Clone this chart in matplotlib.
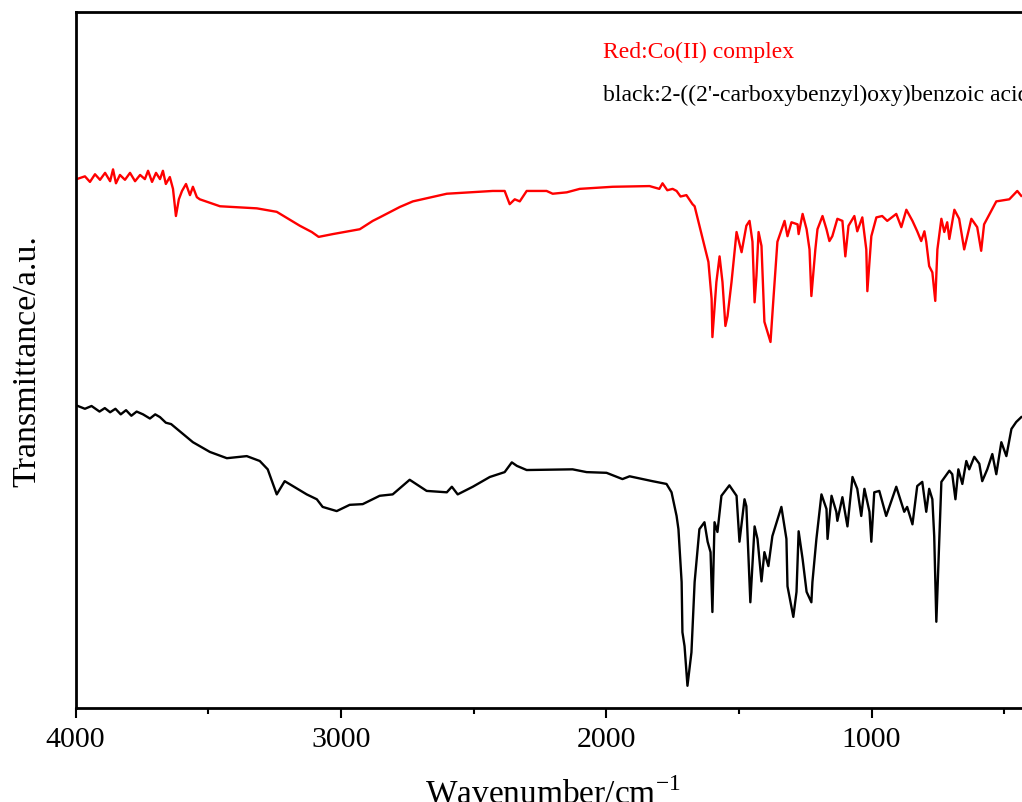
import matplotlib
matplotlib.use("Agg")
import matplotlib.pyplot as plt
from matplotlib.ticker import MultipleLocator

plt.rcParams["font.family"] = ["Liberation Serif", "DejaVu Serif"]
plt.rcParams["mathtext.fontset"] = "custom"
plt.rcParams["mathtext.rm"] = "Liberation Serif"

# FTIR spectra, wavenumber (cm^-1) vs transmittance (a.u., offset)
red_wn = [3996, 3965, 3946, 3927, 3908, 3889, 3870, 3859, 3848, 3833, 3814, 3795,
          3776, 3757, 3739, 3727, 3712, 3697, 3682, 3671, 3660, 3645, 3633, 3622,
          3611, 3599, 3584, 3569, 3558, 3543, 3532, 3456, 3317, 3242, 3155, 3110,
          3084, 3031, 2929, 2880, 2854, 2778, 2729, 2601, 2428, 2383, 2364, 2345,
          2326, 2300, 2225, 2202, 2149, 2100, 1976, 1848, 1837, 1800, 1788, 1770,
          1750, 1735, 1720, 1698, 1675, 1667, 1649, 1630, 1615, 1603, 1600, 1585,
          1573, 1562, 1551, 1543, 1528, 1509, 1490, 1472, 1460, 1449, 1441, 1434,
          1426, 1415, 1404, 1381, 1370, 1355, 1328, 1317, 1302, 1279, 1275, 1260,
          1245, 1234, 1227, 1212, 1204, 1185, 1170, 1159, 1148, 1129, 1110, 1099,
          1087, 1065, 1054, 1035, 1020, 1016, 1001, 982, 960, 941, 907, 888, 869,
          846, 828, 813, 801, 794, 783, 771, 760, 752, 737, 726, 715, 707, 688,
          670, 651, 624, 602, 587, 576, 530, 481, 451, 436]
red_t = [76.0, 76.4, 75.6, 76.7, 75.9, 76.9, 75.7, 77.4, 75.4, 76.6, 75.9, 76.9,
         75.7, 76.6, 76.0, 77.2, 75.6, 76.9, 76.0, 77.2, 75.3, 76.3, 74.6, 70.7,
         73.1, 74.3, 75.3, 73.7, 74.9, 73.4, 73.1, 72.1, 71.8, 71.3, 69.3, 68.4,
         67.7, 68.1, 68.8, 70.0, 70.5, 72.0, 72.8, 73.9, 74.3, 74.3, 72.4, 73.1,
         72.8, 74.3, 74.3, 73.9, 74.1, 74.6, 74.9, 75.0, 75.0, 74.6, 75.4, 74.4,
         74.6, 74.3, 73.5, 73.7, 72.4, 72.1, 69.3, 66.4, 64.1, 58.8, 53.3, 61.2,
         64.9, 61.2, 54.9, 56.3, 61.2, 68.4, 65.5, 69.3, 70.0, 67.0, 58.3, 62.1,
         68.4, 66.4, 55.5, 52.6, 58.8, 67.0, 70.0, 67.8, 69.8, 69.5, 68.1, 71.0,
         68.8, 65.9, 59.2, 65.9, 68.8, 70.7, 68.8, 67.1, 67.8, 70.3, 70.0, 64.9,
         69.3, 70.7, 68.5, 70.5, 65.9, 59.9, 67.8, 70.5, 70.7, 70.0, 71.0, 69.1, 71.6,
         70.0, 68.5, 67.1, 68.5, 67.0, 63.5, 62.6, 58.5, 65.9, 70.3, 68.4, 69.8, 67.4, 71.6,
         70.3, 65.9, 70.3, 69.1, 65.7, 69.5, 72.8, 73.1, 74.3, 73.6]

black_wn = [3998, 3965, 3940, 3910, 3890, 3870, 3850, 3830, 3810, 3790, 3770, 3746,
            3720, 3700, 3682, 3660, 3640, 3618, 3558, 3494, 3430, 3355, 3306, 3276,
            3242, 3212, 3129, 3091, 3069, 3016, 2967, 2918, 2854, 2805, 2741, 2677,
            2601, 2582, 2560, 2503, 2439, 2383, 2356, 2337, 2300, 2127, 2074, 1999,
            1939, 1912, 1826, 1773, 1754, 1735, 1728, 1716, 1713, 1705, 1694, 1679,
            1667, 1649, 1630, 1618, 1607, 1600, 1592, 1581, 1566, 1536, 1509, 1498,
            1479, 1472, 1457, 1441, 1430, 1415, 1404, 1389, 1374, 1340, 1321, 1317,
            1295, 1283, 1275, 1260, 1245, 1227, 1223, 1208, 1189, 1170, 1166, 1151,
            1133, 1129, 1110, 1091, 1072, 1054, 1039, 1027, 1008, 1001, 990, 971,
            945, 907, 877, 866, 846, 828, 809, 794, 783, 771, 764, 756, 748, 737,
            707, 696, 684, 673, 658, 643, 632, 613, 594, 583, 564, 545, 530, 511,
            492, 473, 455, 436]
black_t = [43.5, 43.0, 43.4, 42.6, 43.1, 42.5, 43.0, 42.2, 42.8, 42.0, 42.6, 42.2,
           41.6, 42.2, 41.8, 41.0, 40.8, 40.1, 38.2, 36.8, 35.9, 36.2, 35.5, 34.3,
           30.7, 32.6, 30.7, 30.0, 28.9, 28.3, 29.2, 29.3, 30.5, 30.7, 32.8, 31.2,
           31.0, 31.8, 30.7, 31.8, 33.2, 33.9, 35.3, 34.8, 34.2, 34.3, 33.9, 33.8,
           32.9, 33.3, 32.6, 32.2, 31.0, 27.6, 25.7, 18.1, 10.9, 8.9, 3.2, 8.0,
           18.1, 25.7, 26.7, 23.9, 22.4, 13.8, 26.7, 25.3, 30.5, 32.0, 30.5, 23.9,
           30.0, 29.0, 15.2, 26.1, 24.3, 18.2, 22.4, 20.4, 24.7, 28.9, 24.3, 17.5,
           13.1, 16.7, 25.4, 21.4, 16.7, 15.2, 18.1, 24.3, 30.7, 28.6, 24.3, 30.5,
           28.2, 26.9, 30.3, 26.1, 33.2, 31.5, 27.6, 31.5, 28.2, 23.9, 31.0, 31.2,
           27.6, 31.8, 28.2, 28.9, 26.4, 31.9, 32.5, 28.2, 31.5, 30.0, 24.7, 12.4, 21.0, 32.5,
           34.1, 33.6, 30.0, 34.3, 32.2, 35.5, 34.3, 36.1, 35.1, 32.6, 34.3, 36.5, 33.6, 38.2,
           36.2, 40.1, 41.1, 41.8]

fig = plt.figure(figsize=(10.22, 8.03), dpi=100)
# the original frame runs past the right edge of the picture
ax = fig.add_axes([0.074, 0.117, 0.9346, 0.8667])

ax.plot(red_wn, red_t, color="red", lw=1.7)
ax.plot(black_wn, black_t, color="black", lw=1.7)

ax.set_xlim(4000, 400)
ax.set_ylim(0, 100)
ax.xaxis.set_major_locator(MultipleLocator(1000))
ax.xaxis.set_minor_locator(MultipleLocator(500))
ax.set_yticks([])
ax.tick_params(axis="x", which="major", direction="out", length=7, width=1.5,
               labelsize=21.5, pad=6)
ax.tick_params(axis="x", which="minor", direction="out", length=4.5, width=1.5)
for side in ax.spines.values():
    side.set_linewidth(2)

ax.set_xlabel(r"Wavenumber/cm$^{\mathregular{-1}}$", fontsize=24, labelpad=18)
ax.set_ylabel("Transmittance/a.u.", fontsize=24.5, labelpad=24)

ax.text(0.552, 0.944, "Red:Co(II) complex", color="red", fontsize=17,
        transform=ax.transAxes, va="center")
ax.text(0.552, 0.882, "black:2-((2'-carboxybenzyl)oxy)benzoic acid", color="black",
        fontsize=17, transform=ax.transAxes, va="center")

fig.savefig("out.png", dpi=100)
